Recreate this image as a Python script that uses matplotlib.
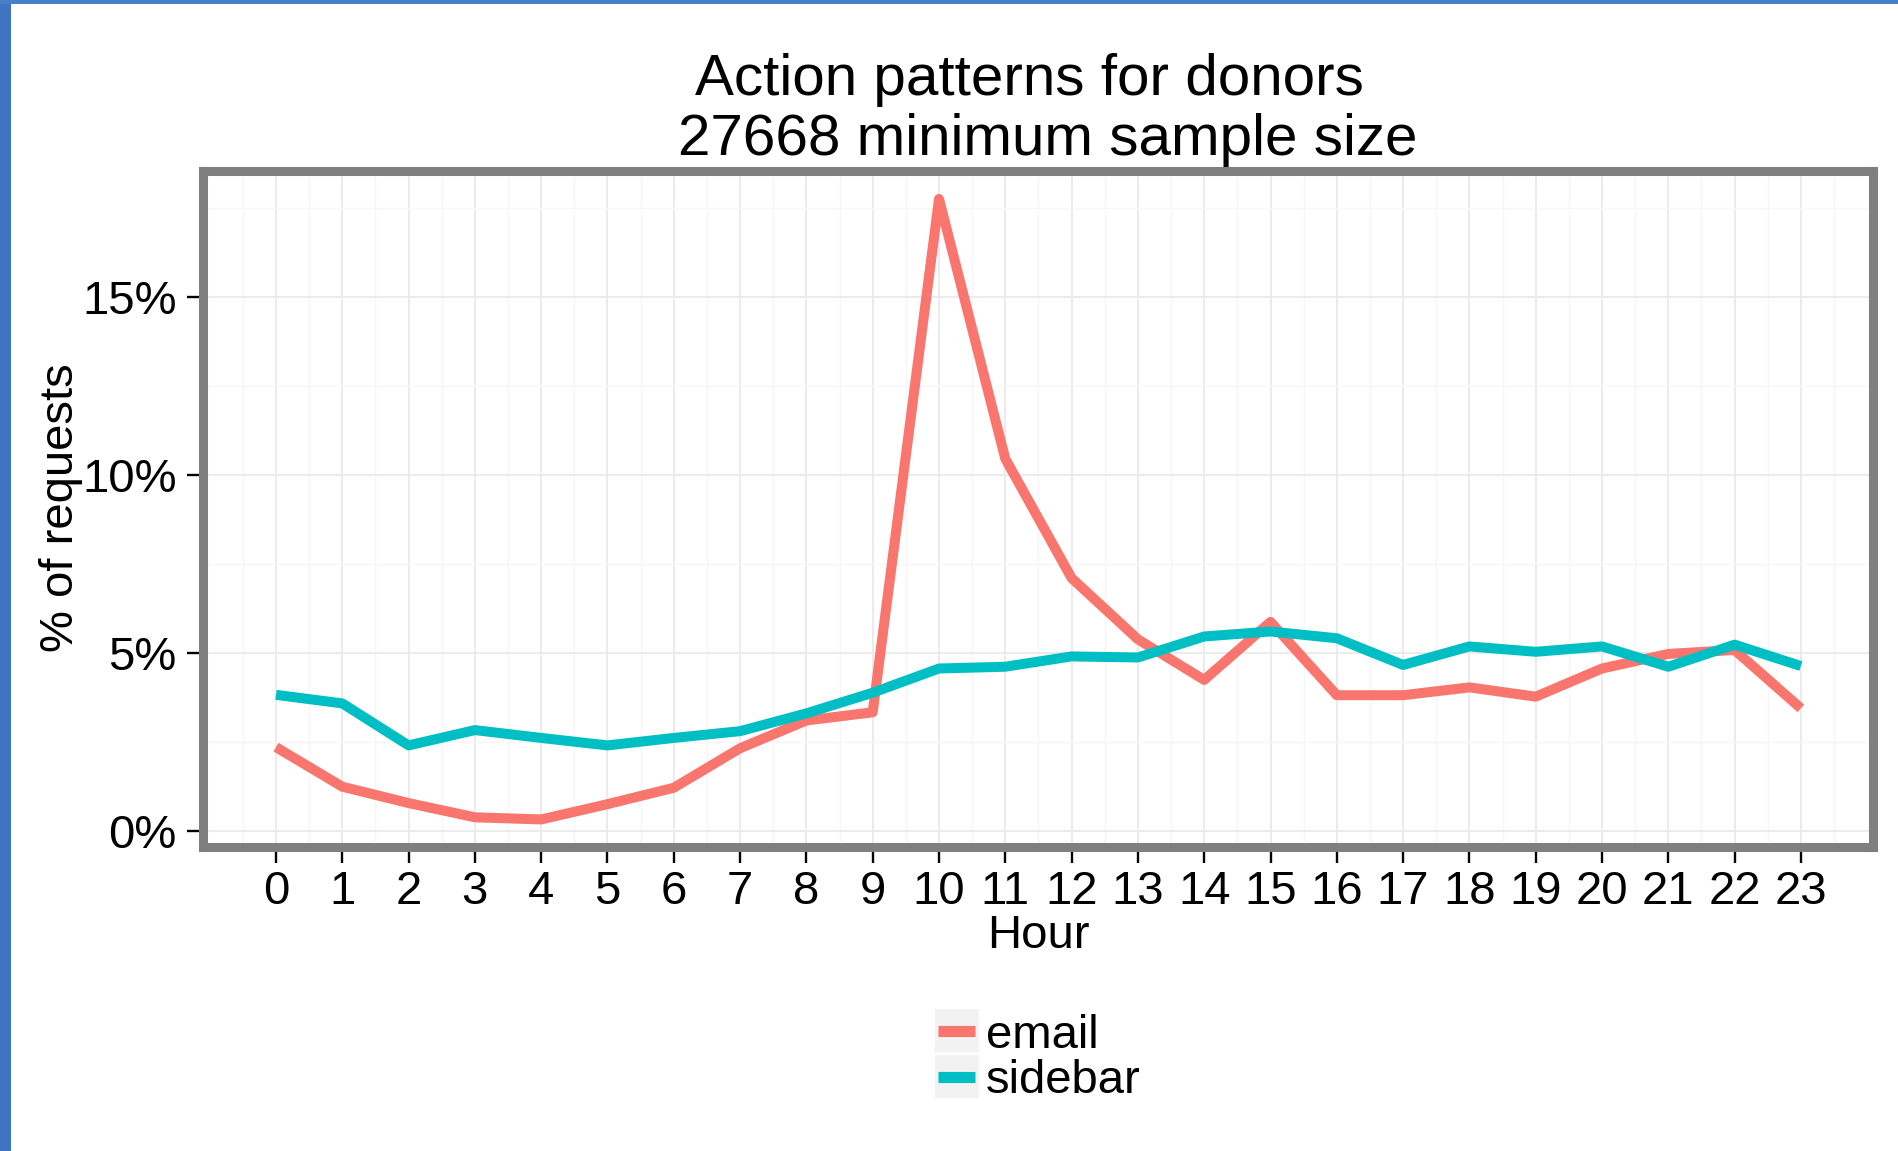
import numpy as np
import matplotlib
matplotlib.use("Agg")
import matplotlib.pyplot as plt
from matplotlib.patches import Rectangle
from matplotlib.lines import Line2D

# ---------------- data ----------------
hours = list(range(24))
email = [2.35, 1.24, 0.78, 0.38, 0.32, 0.75, 1.21, 2.32, 3.10, 3.33,
         17.75, 10.45, 7.10, 5.38, 4.24, 5.87, 3.81, 3.81, 4.03, 3.77,
         4.56, 4.97, 5.08, 3.44]
sidebar = [3.82, 3.58, 2.40, 2.83, 2.61, 2.40, 2.61, 2.80, 3.30, 3.88,
           4.56, 4.61, 4.90, 4.87, 5.46, 5.60, 5.41, 4.66, 5.18, 5.03,
           5.18, 4.61, 5.23, 4.63]
series_names = ["email", "sidebar"]
series_colors = ["#F8766D", "#00BFC4"]
y_ticks = [0, 5, 10, 15]
y_tick_labels = ["0%", "5%", "10%", "15%"]
x_tick_labels = [str(h) for h in hours]
title_line1 = "Action patterns for donors"
title_line2 = "27668 minimum sample size"
x_label = "Hour"
y_label = "% of requests"

# ---------------- figure ----------------
W, H = 1899, 1151
plt.rcParams["font.family"] = ["Liberation Sans", "DejaVu Sans"]
fig = plt.figure(figsize=(W / 100, H / 100), dpi=100)
fig.patch.set_facecolor("white")


def fx(x):
    return x / W


def fy(y):
    return 1 - y / H


# blue frame strips of the screenshot
fig.patches.append(Rectangle((0, 0), 11 / W, 1, transform=fig.transFigure,
                             facecolor="#3F74C0", edgecolor="none", zorder=0))
fig.patches.append(Rectangle((0, 1 - 4 / H), 1, 4 / H, transform=fig.transFigure,
                             facecolor="#4680C8", edgecolor="none", zorder=0))

L, R, T, B = 203.5, 1873.5, 170.5, 846.5
ax = fig.add_axes([fx(L), fy(B), (R - L) / W, (B - T) / H])
ax.set_facecolor("white")

for vals, name, col in zip([email, sidebar], series_names, series_colors):
    ax.plot(hours, vals, color=col, lw=7.2, solid_joinstyle="round",
            solid_capstyle="butt", zorder=3, label=name)

ax.set_xlim(-1.0935, 24.095)
ax.set_ylim(-0.44, 18.55)

ax.set_xticks(hours)
ax.set_xticklabels(x_tick_labels)
ax.set_xticks(np.arange(-0.5, 24.0, 1.0), minor=True)
ax.set_yticks(y_ticks)
ax.set_yticklabels(y_tick_labels)
ax.set_yticks([2.5, 7.5, 12.5, 17.5], minor=True)

ax.set_axisbelow(True)
ax.grid(which="major", color="#EBEBEB", lw=1.4)
ax.grid(which="minor", color="#F6F6F6", lw=1.0)
ax.tick_params(which="minor", length=0)
ax.tick_params(which="major", length=11.2, width=1.7, color="black",
               labelsize=34, labelcolor="black")
ax.tick_params(axis="x", pad=5.8)
ax.tick_params(axis="y", pad=8.0)

for s in ax.spines.values():
    s.set_color("#7F7F7F")
    s.set_linewidth(6.5)

ax.set_xlabel(x_label, fontsize=34)
ax.xaxis.set_label_coords(0.5, (B - 948) / (B - T))
ax.xaxis.label.set_va("baseline")

ax.set_ylabel(y_label, fontsize=34)
ax.yaxis.set_label_coords((61 - L) / (R - L), (B - 508) / (B - T))
ax.yaxis.label.set_va("center")

# title
fig.text(fx(1029), fy(95), title_line1, ha="center", va="baseline", fontsize=42)
fig.text(fx(1048), fy(155), title_line2, ha="center", va="baseline", fontsize=42)

# legend (ggplot-like keys with grey background)
key_tops = [1009, 1055]
key_h = 43
baselines = [1048, 1093]
for name, col, kt, bl in zip(series_names, series_colors, key_tops, baselines):
    fig.patches.append(Rectangle((fx(935), fy(kt + key_h)), 44 / W, key_h / H,
                                 transform=fig.transFigure, facecolor="#F2F2F2",
                                 edgecolor="none"))
    yc = kt + key_h / 2
    fig.lines.append(Line2D([fx(938), fx(975)], [fy(yc), fy(yc)],
                            transform=fig.transFigure, color=col, lw=8.0,
                            solid_capstyle="butt"))
    fig.text(fx(986), fy(bl), name, ha="left", va="baseline", fontsize=34)

fig.savefig("out.png", dpi=100)
